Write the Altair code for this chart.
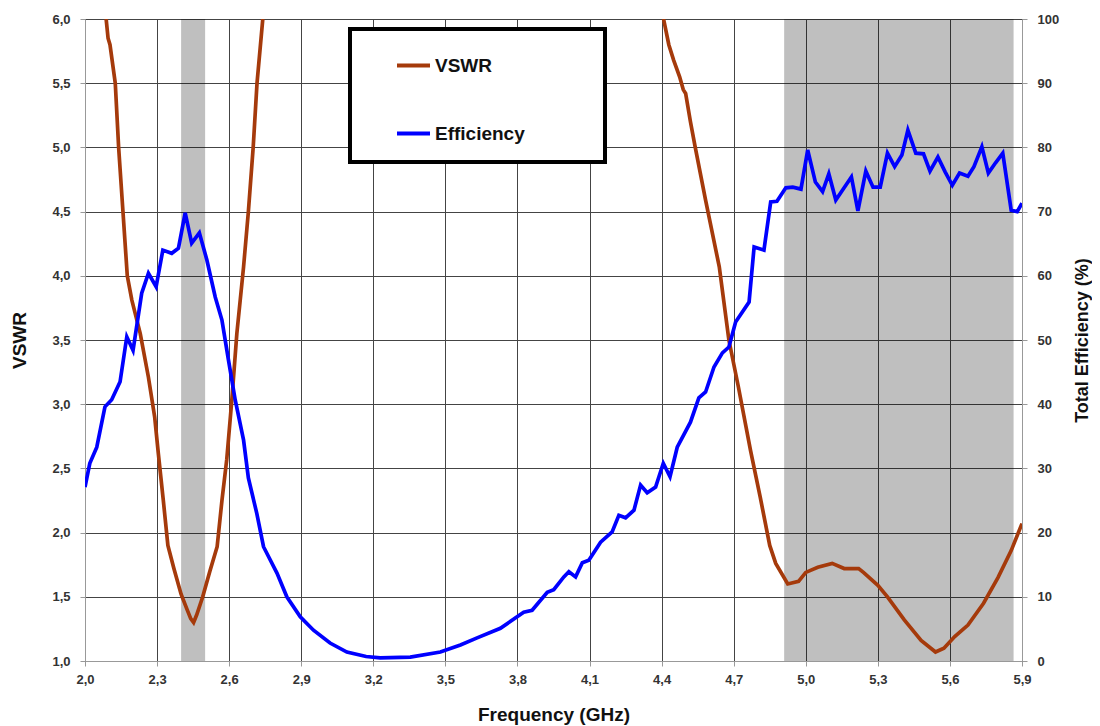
import altair as alt
import pandas as pd

# ---------------- data ----------------
vswr1_freq = [2.088, 2.096, 2.104, 2.126, 2.14, 2.158, 2.176, 2.195, 2.23, 2.264, 2.29,
              2.305, 2.326, 2.345, 2.37, 2.40, 2.425, 2.44, 2.452, 2.465, 2.49, 2.52, 2.55,
              2.57, 2.59, 2.611, 2.632, 2.66, 2.68, 2.70, 2.716, 2.74]
vswr1_val = [6.0, 5.85, 5.8, 5.5, 5.0, 4.5, 4.0, 3.81, 3.55, 3.21, 2.90,
             2.62, 2.25, 1.9, 1.72, 1.52, 1.40, 1.33, 1.30, 1.36, 1.5, 1.7, 1.89,
             2.25, 2.57, 3.03, 3.55, 4.07, 4.5, 5.0, 5.5, 6.0]

vswr2_freq = [4.408, 4.43, 4.45, 4.475, 4.49, 4.50, 4.52, 4.54, 4.583, 4.64, 4.68, 4.72,
              4.77, 4.81, 4.85, 4.875, 4.925, 4.97, 5.0, 5.05, 5.11, 5.16, 5.22, 5.24,
              5.30, 5.34, 5.41, 5.48, 5.54, 5.575, 5.62, 5.675, 5.74, 5.80, 5.855, 5.9]
vswr2_val = [6.0, 5.8, 5.68, 5.55, 5.45, 5.42, 5.2, 5.0, 4.59, 4.07, 3.5, 3.13,
             2.64, 2.28, 1.9, 1.76, 1.60, 1.62, 1.69, 1.73, 1.76, 1.72, 1.72, 1.69,
             1.59, 1.50, 1.32, 1.16, 1.07, 1.10, 1.19, 1.28, 1.45, 1.65, 1.86, 2.07]

eff_freq = [2.0, 2.02, 2.049, 2.083, 2.111, 2.146, 2.174, 2.2, 2.236, 2.264, 2.296, 2.324,
            2.361, 2.389, 2.417, 2.444, 2.476, 2.507, 2.542, 2.57, 2.597, 2.625, 2.66, 2.68,
            2.715, 2.743, 2.799, 2.84, 2.896, 2.951, 3.02, 3.09, 3.17, 3.229, 3.354, 3.479,
            3.5625, 3.632, 3.729, 3.826, 3.861, 3.924, 3.951, 3.993, 4.014, 4.042, 4.07, 4.097,
            4.146, 4.194, 4.222, 4.25, 4.285, 4.3125, 4.34, 4.375, 4.407, 4.435, 4.465, 4.52,
            4.555, 4.583, 4.618, 4.653, 4.68, 4.708, 4.764, 4.785, 4.826, 4.854, 4.88, 4.917,
            4.946, 4.98, 5.008, 5.04, 5.07, 5.096, 5.125, 5.154, 5.19, 5.217, 5.25, 5.28,
            5.31, 5.34, 5.37, 5.40, 5.425, 5.458, 5.49, 5.517, 5.55, 5.58, 5.61, 5.64,
            5.675, 5.70, 5.733, 5.76, 5.79, 5.82, 5.855, 5.88, 5.9]
eff_val = [27.1, 30.8, 33.3, 39.6, 40.7, 43.5, 50.5, 48.4, 57.3, 60.4, 58.3, 64.0,
           63.5, 64.3, 69.8, 65.1, 66.7, 62.5, 56.7, 53.1, 46.9, 40.7, 34.4, 28.5,
           23.0, 17.8, 13.7, 10.0, 6.9, 4.8, 2.8, 1.4, 0.7, 0.5, 0.6, 1.4,
           2.5, 3.6, 5.1, 7.6, 7.9, 10.7, 11.1, 13.1, 13.9, 13.1, 15.3, 15.7,
           18.5, 20.1, 22.7, 22.3, 23.5, 27.4, 26.2, 27.1, 30.8, 28.7, 33.3, 37.2,
           41.0, 41.9, 45.8, 48.0, 48.9, 52.8, 55.9, 64.5, 64.0, 71.5, 71.6, 73.7,
           73.8, 73.5, 79.6, 74.6, 73.1, 75.9, 71.8, 73.4, 75.4, 70.1, 76.3, 73.8,
           73.8, 79.1, 77.0, 78.8, 82.7, 79.1, 79.0, 76.3, 78.5, 76.2, 74.1, 76.0,
           75.5, 77.0, 80.1, 76.0, 77.6, 79.1, 70.2, 70.0, 71.3]

band_start = [2.4, 4.91]
band_end = [2.5, 5.865]

x_ticks = [2.0, 2.3, 2.6, 2.9, 3.2, 3.5, 3.8, 4.1, 4.4, 4.7, 5.0, 5.3, 5.6, 5.9]
vswr_ticks = [1.0, 1.5, 2.0, 2.5, 3.0, 3.5, 4.0, 4.5, 5.0, 5.5, 6.0]
eff_ticks = [0, 10, 20, 30, 40, 50, 60, 70, 80, 90, 100]

series_names = ["VSWR", "Efficiency"]
series_colors = ["#A53A0B", "#0000FF"]

# ---------------- tables ----------------
vswr_df = pd.concat([
    pd.DataFrame({"freq": vswr1_freq, "value": vswr1_val, "seg": 1}),
    pd.DataFrame({"freq": vswr2_freq, "value": vswr2_val, "seg": 2}),
])
vswr_df["series"] = "VSWR"
eff_df = pd.DataFrame({"freq": eff_freq, "value": eff_val, "series": "Efficiency"})
band_df = pd.DataFrame({"start": band_start, "end": band_end,
                        "lo": [1.0] * len(band_start), "hi": [6.0] * len(band_start)})

FONT = "Liberation Sans"
comma = "replace(format(datum.value, '.1f'), '.', ',')"

x_scale = alt.Scale(domain=[2.0, 5.9], nice=False, zero=False)
y_left = alt.Scale(domain=[1.0, 6.0], nice=False, zero=False)
y_right = alt.Scale(domain=[0, 100], nice=False)

color = alt.Color(
    "series:N",
    scale=alt.Scale(domain=series_names, range=series_colors),
    legend=alt.Legend(
        title="_", titleOrient="right", titleOpacity=0, titleFontSize=10, titlePadding=56,
        orient="none", legendX=265, legendY=10,
        symbolType="stroke", symbolStrokeWidth=4, symbolSize=1089,
        labelFont=FONT, labelFontSize=19, labelFontWeight="bold", labelColor="#111",
        labelOffset=3, rowPadding=39, padding=18, symbolOffset=27,
        strokeColor="black", fillColor="white",
    ),
)

x_axis = alt.Axis(values=x_ticks, labelExpr=comma, title="Frequency (GHz)",
                  grid=True, titlePadding=19, labelPadding=7)

bands = alt.Chart(band_df).mark_rect(color="black", opacity=0.25).encode(
    x=alt.X("start:Q", scale=x_scale, axis=x_axis),
    x2="end:Q",
    y=alt.Y("lo:Q", scale=y_left,
            axis=alt.Axis(values=vswr_ticks, labelExpr=comma, title="VSWR",
                          grid=True, titlePadding=22, labelPadding=10)),
    y2="hi:Q",
)

vswr_line = alt.Chart(vswr_df).mark_line(strokeWidth=3.7, clip=True).encode(
    x=alt.X("freq:Q", scale=x_scale),
    y=alt.Y("value:Q", scale=y_left),
    detail="seg:N",
    color=color,
    order="freq:Q",
)

left_layer = alt.layer(bands, vswr_line)

eff_line = alt.Chart(eff_df).mark_line(strokeWidth=3.7, clip=True).encode(
    x=alt.X("freq:Q", scale=x_scale),
    y=alt.Y("value:Q", scale=y_right,
            axis=alt.Axis(values=eff_ticks, format="d", orient="right",
                          title="Total Efficiency (%)", grid=False, titlePadding=33,
                          titleFontSize=18, titleAngle=270, labelPadding=10)),
    color=color,
    order="freq:Q",
)

chart = alt.layer(left_layer, eff_line).resolve_scale(y="independent").properties(
    width=937, height=642,
    autosize=alt.AutoSizeParams(type="none"),
    padding={"left": 77, "top": 11, "right": 70, "bottom": 65},
).configure_view(stroke="#999", strokeWidth=1).configure_axis(
    labelFont=FONT, labelFontSize=13, labelFontWeight="bold", labelColor="#333",
    titleFont=FONT, titleFontSize=19, titleFontWeight="bold", titleColor="#111",
    domainColor="#999", domainWidth=1, tickColor="#999", tickSize=5,
    gridColor="#444", gridWidth=1, gridOpacity=1, labelFlush=False,
).configure_legend(strokeWidth=4)

chart.save("out.html", embed_options={"renderer": "svg", "actions": False})
